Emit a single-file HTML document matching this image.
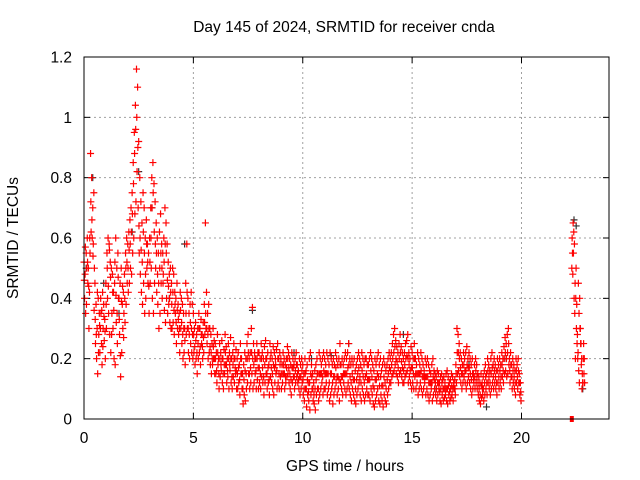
<!DOCTYPE html>
<html><head><meta charset="utf-8"><style>
html,body{margin:0;padding:0;background:#fff;}
svg{display:block;font-family:"Liberation Sans",sans-serif;}
</style></head><body>
<svg id="chart" width="640" height="480" xmlns="http://www.w3.org/2000/svg">
<text x="344" y="32" font-size="15.5" text-anchor="middle">Day 145 of 2024, SRMTID for receiver cnda</text>
<text x="345" y="471" font-size="15.5" text-anchor="middle">GPS time / hours</text>
<text x="18" y="238" font-size="15.5" text-anchor="middle" transform="rotate(-90 18 238)">SRMTID / TECUs</text>
<g id="grid"></g>
<g id="axes"></g>
<g id="marks"></g>
<rect x="84" y="57" width="525" height="362" fill="none" stroke="#000" stroke-width="1"/>
</svg>
<script>
const xTicks=[0,5,10,15,20];
const yTicks=[0,0.2,0.4,0.6,0.8,1,1.2];
const yTickLabels=["0","0.2","0.4","0.6","0.8","1","1.2"];
const step=0.05;
const seriesA=[
.52,.48,.55,.6,.5,.42,.88,.8,.7,.75,.45,.38,.3,.4,.35,.3,.25,.42,.38,.33,
.45,.55,.6,.58,.52,.5,.48,.42,.45,.6,.5,.55,.4,.45,.5,.38,.42,.48,.55,.6,
.58,.62,.66,.7,.75,.85,.95,1.04,1.16,1.1,.92,.8,.72,.65,.75,.7,.6,.66,.58,.55,
.6,.7,.8,.85,.78,.72,.65,.6,.55,.62,.68,.58,.55,.6,.7,.65,.58,.52,.48,.5,
.45,.5,.48,.42,.4,.45,.38,.35,.42,.4,.38,.35,.3,.45,.58,.4,.35,.38,.42,.38,
.35,.3,.32,.28,.3,.35,.3,.33,.28,.32,.38,.65,.42,.35,.38,.3,.28,.25,.3,.26,
.25,.22,.28,.2,.25,.22,.26,.2,.23,.28,.24,.2,.25,.22,.27,.2,.22,.25,.2,.23,
.2,.22,.18,.25,.2,.15,.18,.22,.2,.25,.28,.2,.22,.3,.37,.25,.22,.2,.25,.22,
.22,.2,.25,.22,.2,.24,.26,.2,.22,.18,.25,.22,.2,.24,.22,.2,.23,.25,.2,.22,
.2,.18,.22,.2,.18,.2,.24,.22,.2,.18,.22,.2,.18,.2,.22,.18,.16,.2,.18,.2,
.18,.15,.2,.16,.18,.12,.2,.22,.18,.15,.12,.16,.18,.2,.15,.22,.2,.18,.2,.22,
.2,.18,.22,.2,.18,.22,.2,.18,.2,.18,.22,.2,.18,.2,.25,.18,.2,.18,.2,.22,
.2,.22,.25,.2,.18,.2,.18,.2,.16,.18,.2,.22,.2,.18,.22,.2,.18,.2,.2,.18,
.18,.2,.22,.2,.18,.16,.2,.18,.2,.22,.18,.2,.16,.18,.2,.18,.16,.18,.2,.22,
.2,.22,.25,.28,.3,.26,.24,.22,.25,.28,.24,.22,.2,.22,.25,.26,.28,.22,.2,.24,
.22,.2,.25,.2,.18,.22,.2,.18,.22,.2,.18,.16,.2,.18,.2,.18,.16,.15,.18,.2,
.16,.15,.14,.16,.15,.12,.14,.15,.13,.14,.12,.15,.16,.14,.12,.13,.15,.14,.12,.13,
.18,.3,.28,.25,.22,.2,.18,.22,.2,.22,.24,.2,.22,.2,.18,.2,.15,.18,.2,.18,
.15,.14,.12,.15,.12,.14,.16,.18,.15,.2,.18,.16,.2,.22,.18,.2,.18,.16,.2,.18,
.2,.18,.22,.2,.24,.27,.25,.28,.3,.2,.22,.18,.2,.18,.16,.2,.18,.2,.15,.12];
const seriesB=[
.4,.35,.5,.45,.3,.55,.62,.6,.58,.5,.25,.2,.15,.28,.22,.35,.18,.3,.26,.2,
.3,.4,.35,.28,.22,.35,.3,.2,.18,.32,.25,.4,.28,.14,.22,.3,.35,.32,.38,.45,
.42,.45,.5,.48,.55,.6,.68,.72,.82,.7,.55,.48,.42,.38,.45,.35,.4,.5,.45,.35,
.45,.5,.4,.35,.45,.5,.42,.38,.3,.35,.45,.4,.48,.36,.32,.4,.35,.38,.32,.3,
.3,.32,.28,.35,.25,.3,.28,.22,.3,.25,.2,.22,.18,.28,.3,.22,.2,.25,.22,.2,
.22,.18,.2,.15,.2,.22,.18,.25,.2,.22,.28,.3,.25,.2,.22,.18,.15,.18,.2,.15,
.15,.12,.18,.1,.14,.16,.12,.1,.15,.18,.12,.14,.1,.16,.12,.1,.14,.12,.15,.1,
.1,.12,.08,.15,.1,.05,.08,.06,.1,.12,.15,.1,.12,.15,.1,.12,.15,.1,.13,.1,
.12,.1,.14,.12,.08,.12,.15,.1,.12,.08,.14,.12,.1,.08,.12,.15,.1,.12,.1,.14,
.1,.12,.15,.1,.12,.14,.15,.12,.1,.08,.12,.14,.1,.12,.14,.12,.1,.08,.1,.12,
.08,.06,.1,.04,.08,.06,.03,.08,.1,.06,.05,.03,.08,.1,.06,.08,.1,.12,.08,.1,
.1,.12,.08,.1,.06,.08,.1,.05,.08,.1,.12,.08,.1,.06,.12,.1,.08,.12,.1,.08,
.1,.12,.1,.08,.06,.1,.08,.06,.05,.08,.1,.12,.08,.06,.1,.08,.06,.08,.1,.08,
.08,.06,.1,.08,.05,.04,.06,.08,.1,.06,.05,.08,.06,.04,.08,.06,.05,.08,.1,.12,
.12,.14,.15,.16,.18,.15,.14,.12,.15,.16,.14,.12,.12,.14,.15,.16,.12,.14,.12,.1,
.12,.1,.14,.1,.12,.08,.1,.12,.1,.08,.1,.12,.08,.1,.08,.06,.08,.1,.06,.08,
.1,.08,.06,.08,.1,.06,.05,.08,.06,.07,.08,.06,.05,.08,.06,.07,.08,.06,.1,.08,
.12,.15,.16,.14,.12,.1,.12,.14,.12,.1,.12,.14,.12,.1,.08,.1,.12,.1,.12,.1,
.08,.06,.05,.07,.08,.06,.08,.1,.08,.12,.1,.08,.1,.12,.1,.12,.1,.08,.12,.1,
.12,.1,.14,.12,.15,.16,.14,.15,.18,.12,.14,.1,.12,.1,.08,.12,.1,.12,.08,.06];
const seriesC=[
.46,.57,.38,.52,.44,.6,.72,.66,.54,.36,.33,.28,.42,.22,.31,.4,.36,.24,.34,.29,
.38,.5,.44,.56,.47,.28,.42,.36,.52,.41,.35,.47,.33,.21,.39,.44,.27,.4,.5,.52,
.5,.56,.58,.62,.68,.78,.88,.96,1.0,.9,.64,.6,.56,.52,.62,.55,.48,.58,.52,.44,
.52,.6,.7,.75,.62,.58,.55,.48,.45,.5,.55,.5,.45,.52,.58,.55,.46,.44,.4,.42,
.38,.42,.36,.38,.32,.36,.33,.3,.36,.32,.28,.3,.26,.35,.42,.3,.28,.32,.3,.28,
.28,.24,.26,.22,.25,.3,.24,.28,.24,.27,.32,.35,.3,.28,.3,.24,.22,.2,.24,.2,
.2,.16,.22,.15,.2,.18,.2,.15,.18,.22,.18,.16,.2,.18,.2,.14,.18,.2,.17,.16,
.15,.17,.13,.2,.15,.1,.13,.16,.15,.2,.22,.15,.17,.22,.2,.18,.2,.16,.2,.17,
.17,.15,.2,.17,.14,.18,.2,.15,.17,.13,.2,.17,.15,.18,.17,.18,.16,.2,.15,.18,
.15,.15,.18,.15,.14,.17,.2,.17,.15,.13,.17,.17,.14,.16,.18,.15,.13,.14,.14,.16,
.13,.1,.15,.1,.13,.09,.12,.15,.14,.1,.08,.1,.13,.15,.1,.15,.15,.15,.14,.16,
.15,.15,.15,.15,.12,.15,.15,.12,.14,.14,.17,.14,.14,.13,.18,.14,.14,.15,.15,.15,
.15,.17,.18,.14,.12,.15,.13,.13,.1,.13,.15,.17,.14,.12,.16,.14,.12,.14,.15,.13,
.13,.13,.16,.14,.11,.1,.13,.13,.15,.14,.11,.14,.11,.11,.14,.12,.1,.13,.15,.17,
.16,.18,.2,.22,.24,.2,.19,.17,.2,.22,.19,.17,.16,.18,.2,.21,.2,.18,.16,.17,
.17,.15,.2,.15,.15,.15,.15,.15,.16,.14,.14,.14,.14,.14,.14,.12,.12,.12,.12,.14,
.13,.12,.1,.12,.12,.09,.1,.12,.1,.1,.1,.1,.1,.11,.09,.1,.11,.1,.11,.1,
.15,.22,.22,.2,.17,.15,.15,.18,.16,.16,.18,.17,.17,.15,.13,.15,.13,.14,.16,.14,
.12,.1,.08,.11,.1,.1,.12,.14,.12,.16,.14,.12,.15,.17,.14,.16,.14,.12,.16,.14,
.16,.14,.18,.16,.2,.22,.2,.22,.25,.16,.18,.14,.16,.14,.12,.16,.14,.16,.12,.09];
const lateStart=22.3, lateStep=0.03;
const lateA=[.5,.55,.65,.62,.58,.45,.4,.3,.25,.2,.45,.35,.4,.3,.25,.2,.15,.12,.25,.2];
const lateB=[.6,.48,.55,.4,.35,.2,.5,.38,.28,.22,.16,.12,.3,.25,.18,.1,.12,.2,.15,.12];
const blackHours=[0.1,0.4,0.9,1.6,2.2,2.5,3.1,3.9,4.6,7.7,9.6,10.4,11.3,12.1,14.6,16.1,17.6,18.4,19.3,22.4,22.5,22.8];
const blackValues=[0.5,0.8,0.45,0.35,0.62,0.82,0.7,0.4,0.58,0.36,0.22,0.2,0.21,0.25,0.28,0.1,0.18,0.04,0.2,0.66,0.64,0.1];
const zeroHours=[22.3];
const zeroValues=[0];

const X0=84,X1=609,Y0=419,Y1=57,XMAX=24,YMAX=1.2;
const xs=h=>X0+(X1-X0)*h/XMAX;
const ys=v=>Y0-(Y0-Y1)*v/YMAX;
const NS="http://www.w3.org/2000/svg";
function mk(tag,attrs,parent){const e=document.createElementNS(NS,tag);for(const k in attrs)e.setAttribute(k,attrs[k]);parent.appendChild(e);return e;}
const grid=document.getElementById('grid'),axes=document.getElementById('axes'),marks=document.getElementById('marks');
xTicks.forEach(t=>{
  const x=xs(t);
  if(t>0){const g=mk('line',{x1:x,x2:x,y1:Y1,y2:Y0,stroke:'#a0a0a0','stroke-dasharray':'2,3'},grid);
  
  }
  mk('line',{x1:x,x2:x,y1:Y0,y2:Y0-6,stroke:'#000'},axes);
  mk('line',{x1:x,x2:x,y1:Y1,y2:Y1+6,stroke:'#000'},axes);
  const l=mk('text',{x:x,y:443,'font-size':15.5,'text-anchor':'middle'},axes);l.textContent=t;
  
  
});
yTicks.forEach((v,i)=>{
  const y=ys(v);
  if(v>0&&v<YMAX){const g=mk('line',{x1:X0,x2:X1,y1:y,y2:y,stroke:'#a0a0a0','stroke-dasharray':'2,3'},grid);
  
  }
  mk('line',{x1:X0,x2:X0+6,y1:y,y2:y,stroke:'#000'},axes);
  mk('line',{x1:X1,x2:X1-6,y1:y,y2:y,stroke:'#000'},axes);
  const l=mk('text',{x:72,y:y+5.5,'font-size':15.5,'text-anchor':'end'},axes);l.textContent=yTickLabels[i];
  
  
});
function plus(h,v,color,name){
  const x=xs(h),y=ys(v);
  const p=mk('path',{d:`M${x-3.5},${y}H${x+3.5}M${x},${y-3.5}V${y+3.5}`,stroke:color,'stroke-width':1.2,fill:'none'},marks);
  
  
}
blackHours.forEach((h,i)=>plus(h,blackValues[i],'#333','black-point'));
seriesA.forEach((v,i)=>plus(i*step,v,'#ff0000','srmtid-point'));
seriesB.forEach((v,i)=>plus(i*step+step/2,v,'#ff0000','srmtid-point'));
seriesC.forEach((v,i)=>plus(i*step+step/4,v,'#ff0000','srmtid-point'));
lateA.forEach((v,i)=>plus(lateStart+i*lateStep,v,'#ff0000','srmtid-point'));
lateB.forEach((v,i)=>plus(lateStart+i*lateStep+lateStep/2,v,'#ff0000','srmtid-point'));
zeroHours.forEach((h,i)=>{
  const r=mk('rect',{x:xs(h)-2,y:ys(zeroValues[i])-3,width:4,height:6,fill:'#ff0000'},marks);
  
  
});
</script>
</body></html>
